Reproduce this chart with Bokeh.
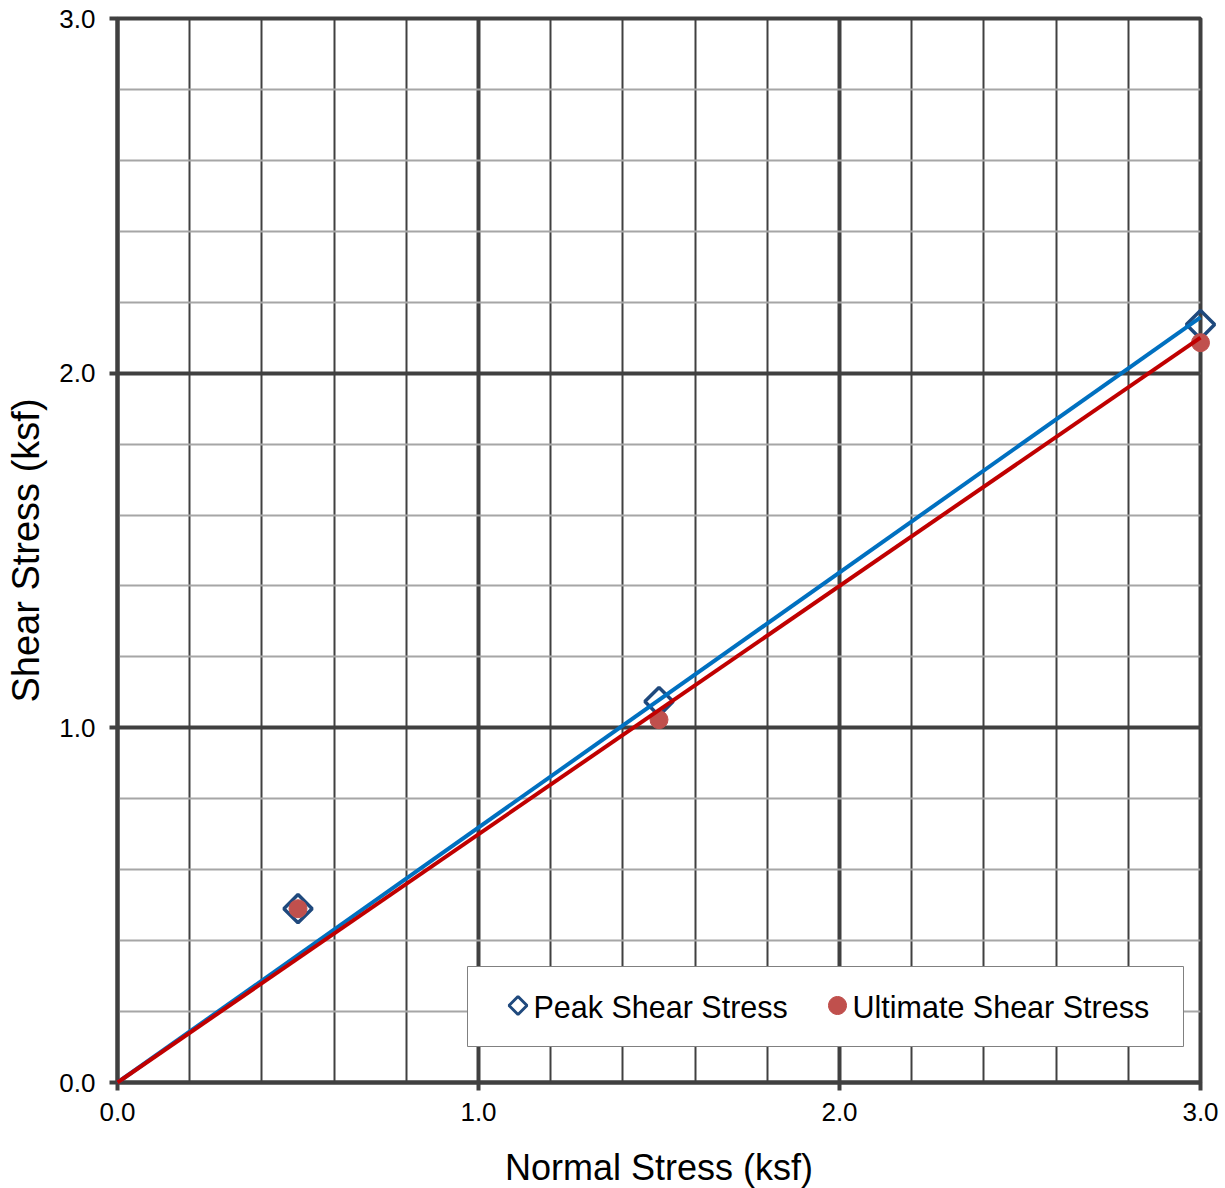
import math
from bokeh.plotting import figure
from bokeh.models import (SingleIntervalTicker, Range1d, NumeralTickFormatter,
                          BoxAnnotation, PolyAnnotation, Label)
from bokeh.embed import file_html
from bokeh.resources import INLINE

# Data
normal_stress = [0.5, 1.5, 3.0]
peak_shear = [0.49, 1.074, 2.137]
ultimate_shear = [0.49, 1.023, 2.086]
fit_x = [0.0, 3.0]
peak_fit = [0.0, 2.157]
ultimate_fit = [0.0, 2.10]
series_labels = ["Peak Shear Stress", "Ultimate Shear Stress"]
x_title = "Normal Stress (ksf)"
y_title = "Shear Stress (ksf)"

FONT = "Liberation Sans"
DARK = "#404040"
PEAK_COLOR = "#1F497D"
ULT_COLOR = "#C0504D"

p = figure(width=1225, height=1188, output_backend="svg", toolbar_location=None,
           x_range=Range1d(0, 3), y_range=Range1d(0, 3),
           frame_width=1083, frame_height=1064,
           min_border_left=117, min_border_right=25, min_border_top=18, min_border_bottom=106)
p.background_fill_color = "white"
p.border_fill_color = "white"
p.outline_line_color = DARK
p.outline_line_width = 4

for ax in (p.xaxis[0], p.yaxis[0]):
    ax.ticker = SingleIntervalTicker(interval=1, num_minor_ticks=5)
    ax.formatter = NumeralTickFormatter(format="0.0")
    ax.axis_line_color = DARK
    ax.axis_line_width = 4
    ax.major_tick_line_color = DARK
    ax.major_tick_line_width = 4
    ax.major_tick_out = 8
    ax.major_tick_in = 0
    ax.minor_tick_line_color = None
    ax.major_label_text_font = FONT
    ax.major_label_text_font_size = "26px"
    ax.major_label_text_color = "black"
    ax.axis_label_text_font = FONT
    ax.axis_label_text_font_style = "normal"
    ax.axis_label_text_color = "black"

p.xaxis.axis_label = x_title
p.yaxis.axis_label = y_title
p.xaxis.axis_label_text_font_size = "36px"
p.yaxis.axis_label_text_font_size = "38px"
p.xaxis.major_label_standoff = 12
p.yaxis.major_label_standoff = 14
p.xaxis.axis_label_standoff = 23
p.yaxis.axis_label_standoff = 9

p.xgrid.ticker = SingleIntervalTicker(interval=1, num_minor_ticks=5)
p.ygrid.ticker = SingleIntervalTicker(interval=1, num_minor_ticks=5)
p.xgrid.grid_line_color = DARK
p.xgrid.grid_line_width = 4
p.ygrid.grid_line_color = DARK
p.ygrid.grid_line_width = 4
p.xgrid.minor_grid_line_color = DARK
p.xgrid.minor_grid_line_width = 2
p.ygrid.minor_grid_line_color = "#a6a6a6"
p.ygrid.minor_grid_line_width = 2

p.scatter(normal_stress, peak_shear, marker="square", angle=math.pi / 4, size=20,
          fill_color=None, line_color=PEAK_COLOR, line_width=3.5, level="overlay")
p.scatter(normal_stress, ultimate_shear, marker="circle", size=18,
          fill_color=ULT_COLOR, line_color=ULT_COLOR, line_width=1, level="overlay")
p.line(fit_x, peak_fit, line_color="#0070C0", line_width=4, level="overlay")
p.line(fit_x, ultimate_fit, line_color="#C00000", line_width=4, level="overlay")

# Legend (drawn manually in canvas pixels so the diamond glyph matches)
box = BoxAnnotation(left=467, right=1183, top=966, bottom=1046,
                    left_units="canvas", right_units="canvas",
                    top_units="canvas", bottom_units="canvas",
                    fill_color="white", fill_alpha=1.0,
                    line_color="#808080", line_width=1, line_alpha=1.0)
p.add_layout(box)

cy = 1005
dcx, dr = 517.5, 9
p.add_layout(PolyAnnotation(xs=[dcx, dcx + dr, dcx, dcx - dr], ys=[cy - dr, cy, cy + dr, cy],
                            xs_units="canvas", ys_units="canvas",
                            fill_color="white", fill_alpha=1.0,
                            line_color=PEAK_COLOR, line_width=3, line_alpha=1.0))
ccx, cr = 837, 9
n = 36
p.add_layout(PolyAnnotation(xs=[ccx + cr * math.cos(2 * math.pi * k / n) for k in range(n)],
                            ys=[cy + cr * math.sin(2 * math.pi * k / n) for k in range(n)],
                            xs_units="canvas", ys_units="canvas",
                            fill_color=ULT_COLOR, fill_alpha=1.0,
                            line_color=ULT_COLOR, line_width=1, line_alpha=1.0))
for lx, txt in zip([533, 852], series_labels):
    p.add_layout(Label(x=lx, y=cy + 1, x_units="canvas", y_units="canvas", text=txt,
                       text_font=FONT, text_font_size="30.5px", text_color="black",
                       text_align="left", text_baseline="middle"))

open("out.html", "w").write(file_html(p, INLINE))
